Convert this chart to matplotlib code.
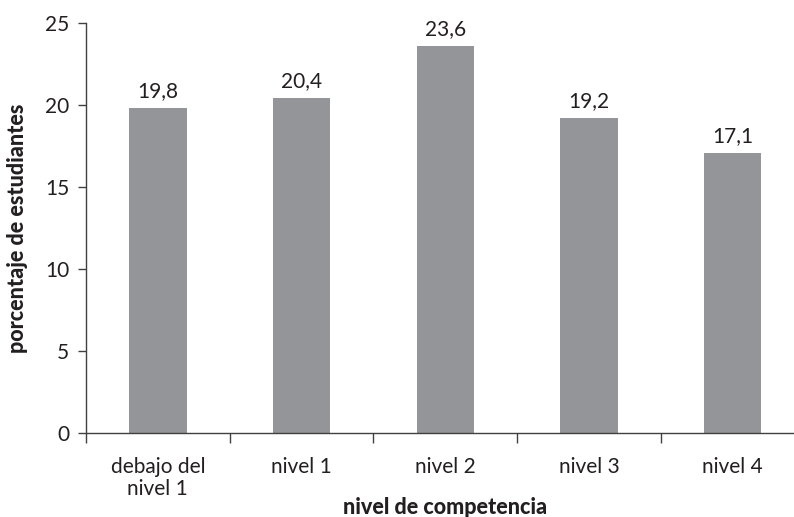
import numpy as np
import matplotlib.pyplot as plt

# niveles de competencia y porcentajes
categorias = ["debajo del\nnivel 1", "nivel 1", "nivel 2", "nivel 3", "nivel 4"]
porcentajes = [19.8, 20.4, 23.6, 19.2, 17.1]
etiquetas = ["19,8", "20,4", "23,6", "19,2", "17,1"]

plt.rcParams['font.family'] = ['Lato', 'DejaVu Sans']

fig = plt.figure(figsize=(7.94, 5.17), dpi=100)
ax = fig.add_axes([0.1083, 0.1625, 0.8905, 0.793])

x = np.arange(len(categorias))
ax.bar(x, porcentajes, width=0.40, color='#939598', zorder=2)

for xi, v, t in zip(x, porcentajes, etiquetas):
    ax.annotate(t, (xi, v), xytext=(0, 5), textcoords='offset points',
                ha='center', va='bottom', fontsize=15, color='#231f20')

ax.set_xlim(-0.5, 4.42)
ax.set_ylim(0, 25)
ax.set_yticks([0, 5, 10, 15, 20, 25])

# ticks del eje x entre categorias
ax.set_xticks(np.arange(-0.5, 4.5, 1.0))
ax.set_xticklabels([])
ax.set_xticks(x, minor=True)
ax.set_xticklabels(categorias, minor=True, fontsize=15, color='#231f20',
                   linespacing=1.15)
ax.tick_params(axis='x', which='minor', length=0, pad=17)
ax.tick_params(axis='x', which='major', length=7, width=1, color='#404040')
ax.tick_params(axis='y', length=6, width=1, color='#404040', labelsize=15,
               labelcolor='#231f20', pad=6)

for s in ['top', 'right']:
    ax.spines[s].set_visible(False)
for s in ['left', 'bottom']:
    ax.spines[s].set_color('#404040')
    ax.spines[s].set_linewidth(1)

fig.text(0.56, 10 / 517, "nivel de competencia", fontsize=15.5, fontweight='black',
         color='#231f20', ha='center', va='center')
ax.set_ylabel("porcentaje de estudiantes", fontsize=15.5, fontweight='black', color='#231f20', labelpad=12)

fig.savefig('out.png', dpi=100)
